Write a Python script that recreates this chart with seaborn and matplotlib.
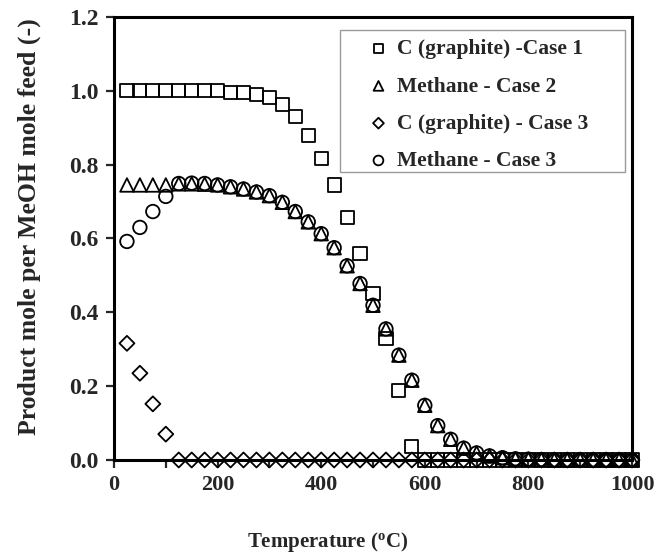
import matplotlib
matplotlib.use("Agg")
import matplotlib.pyplot as plt
from matplotlib.patches import Rectangle
from matplotlib.ticker import MultipleLocator, FormatStrFormatter
import seaborn as sns
import pandas as pd

# Temperatures (°C)
temperature = [25, 50, 75, 100, 125, 150, 175, 200, 225, 250,
               275, 300, 325, 350, 375, 400, 425, 450, 475, 500,
               525, 550, 575, 600, 625, 650, 675, 700, 725, 750,
               775, 800, 825, 850, 875, 900, 925, 950, 975, 1000]

# Product mole per MeOH mole feed
graphite_case1 = [1.000, 1.000, 1.000, 1.000, 1.000, 1.000, 1.000, 1.000, 0.996, 0.995,
                  0.991, 0.981, 0.963, 0.930, 0.879, 0.817, 0.745, 0.656, 0.559, 0.450,
                  0.330, 0.188, 0.037, 0.000, 0.000, 0.000, 0.000, 0.000, 0.000, 0.000,
                  0.000, 0.000, 0.000, 0.000, 0.000, 0.000, 0.000, 0.000, 0.000, 0.000]

methane_case2 = [0.745, 0.745, 0.745, 0.745, 0.748, 0.748, 0.747, 0.745, 0.740, 0.734,
                 0.726, 0.716, 0.698, 0.673, 0.645, 0.613, 0.575, 0.526, 0.478, 0.419,
                 0.355, 0.284, 0.216, 0.148, 0.093, 0.056, 0.032, 0.019, 0.011, 0.006,
                 0.003, 0.002, 0.001, 0.000, 0.000, 0.000, 0.000, 0.000, 0.000, 0.000]

graphite_case3 = [0.316, 0.235, 0.152, 0.070, 0.000, 0.000, 0.000, 0.000, 0.000, 0.000,
                  0.000, 0.000, 0.000, 0.000, 0.000, 0.000, 0.000, 0.000, 0.000, 0.000,
                  0.000, 0.000, 0.000, 0.000, 0.000, 0.000, 0.000, 0.000, 0.000, 0.000,
                  0.000, 0.000, 0.000, 0.000, 0.000, 0.000, 0.000, 0.000, 0.000, 0.000]

methane_case3 = [0.592, 0.630, 0.673, 0.714, 0.749, 0.750, 0.749, 0.745, 0.740, 0.734,
                 0.726, 0.716, 0.698, 0.673, 0.645, 0.613, 0.575, 0.526, 0.478, 0.419,
                 0.355, 0.284, 0.216, 0.148, 0.093, 0.056, 0.032, 0.019, 0.011, 0.006,
                 0.003, 0.002, 0.001, 0.000, 0.000, 0.000, 0.000, 0.000, 0.000, 0.000]

series_labels = ["C (graphite) -Case 1", "Methane - Case 2",
                 "C (graphite) - Case 3", "Methane - Case 3"]
x_ticks = [0, 200, 400, 600, 800, 1000]
y_ticks = [0.0, 0.2, 0.4, 0.6, 0.8, 1.0, 1.2]

sns.set_style("ticks")
plt.rcParams["font.family"] = ["Liberation Serif", "DejaVu Serif"]
plt.rcParams["font.weight"] = "bold"
plt.rcParams["mathtext.fontset"] = "custom"
plt.rcParams["mathtext.rm"] = "Liberation Serif:bold"
plt.rcParams["mathtext.it"] = "Liberation Serif:bold"
plt.rcParams["mathtext.bf"] = "Liberation Serif:bold"

fig = plt.figure(figsize=(6.69, 5.56), dpi=100)
ax = fig.add_axes([0.1704, 0.1727, 0.7743, 0.7967])

styles = [("s", 90), ("^", 95), ("D", 58), ("o", 95)]
values = [graphite_case1, methane_case2, graphite_case3, methane_case3]

for label, vals, (mk, size) in zip(series_labels, values, styles):
    df = pd.DataFrame({"T": temperature, "y": vals})
    sns.scatterplot(data=df, x="T", y="y", ax=ax, marker=mk, s=size,
                    facecolor="none", edgecolor="black", linewidth=1.3,
                    label=label, clip_on=False, zorder=3)

ax.set_xlim(0, 1000)
ax.set_ylim(0, 1.2)
ax.set_xticks(x_ticks)
ax.set_yticks(y_ticks)
ax.xaxis.set_minor_locator(MultipleLocator(100))
ax.yaxis.set_major_formatter(FormatStrFormatter("%.1f"))
ax.tick_params(axis="both", which="both", direction="out", length=6, width=1.6,
               pad=5, top=False, right=False)
ax.tick_params(axis="x", labelsize=16)
ax.tick_params(axis="y", labelsize=17)
for sp in ax.spines.values():
    sp.set_linewidth(2.2)
    sp.set_visible(True)
    sp.set_color("black")
for lab in ax.get_xticklabels() + ax.get_yticklabels():
    lab.set_fontweight("bold")

ax.set_xlabel(r"Temperature ($^{\mathrm{o}}$C)", fontsize=15, fontweight="bold")
ax.set_ylabel("Product mole per MeOH mole feed (-)", fontsize=18.5, fontweight="bold")
ax.xaxis.set_label_coords(0.413, -0.157)
ax.yaxis.set_label_coords(-0.141, 0.526)

# Legend box
ax.add_patch(Rectangle((0.436, 0.650), 0.550, 0.3205, transform=ax.transAxes,
                       facecolor="white", edgecolor="#9a9a9a", linewidth=1.0, zorder=4))
leg = ax.legend(loc="upper left", bbox_to_anchor=(0.496, 0.950), frameon=False,
                borderpad=0, borderaxespad=0, handlelength=0.7, handletextpad=0.53,
                labelspacing=0.8, markerscale=0.72,
                prop={"family": "Liberation Serif", "weight": "bold", "size": 15.5})
leg.set_zorder(5)

fig.savefig("out.png", dpi=100)
